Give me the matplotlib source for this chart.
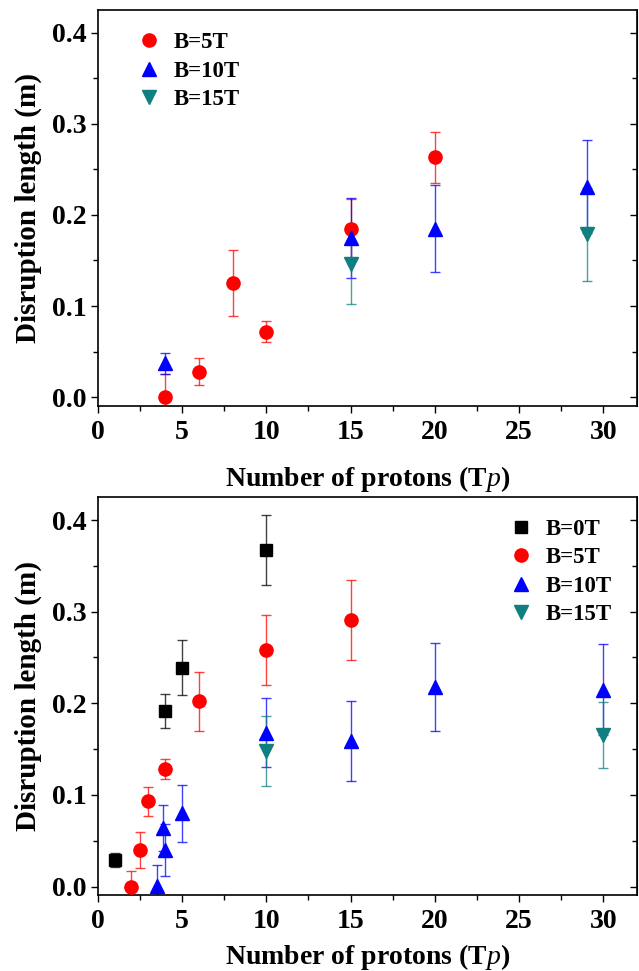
import matplotlib
matplotlib.use('Agg')
import matplotlib.pyplot as plt
from matplotlib.ticker import MultipleLocator

plt.rcParams['font.family'] = 'Liberation Serif'
plt.rcParams['font.weight'] = 'bold'
plt.rcParams['mathtext.fontset'] = 'custom'
plt.rcParams['mathtext.it'] = 'Liberation Serif:style=italic:weight=normal'
plt.rcParams['mathtext.rm'] = 'Liberation Serif:weight=bold'

# top panel data
top_x5 = [4, 6, 8, 10, 15, 20]
top_y5 = [0.0, 0.028, 0.125, 0.072, 0.185, 0.263]
top_e5 = [0.025, 0.0145, 0.036, 0.0115, 0.032, 0.028]

top_x10 = [4, 15, 20, 29]
top_y10 = [0.037, 0.175, 0.185, 0.231]
top_e10 = [0.0115, 0.044, 0.048, 0.051]

top_x15 = [15, 29]
top_y15 = [0.146, 0.179]
top_e15 = [0.044, 0.051]

# bottom panel data
bot_x0 = [1, 4, 5, 10]
bot_y0 = [0.029, 0.192, 0.239, 0.367]
bot_e0 = [0.008, 0.0185, 0.030, 0.038]

bot_x5 = [2, 2.5, 3, 4, 6, 10, 15]
bot_y5 = [0.0, 0.040, 0.093, 0.128, 0.202, 0.258, 0.291]
bot_e5 = [0.017, 0.020, 0.0155, 0.011, 0.032, 0.038, 0.044]

bot_x10 = [3.5, 3.85, 4.0, 5, 10, 15, 20, 30]
bot_y10 = [0.001, 0.064, 0.040, 0.080, 0.168, 0.159, 0.218, 0.215]
bot_e10 = [0.023, 0.025, 0.028, 0.031, 0.038, 0.044, 0.048, 0.050]

bot_x15 = [10, 30]
bot_y15 = [0.148, 0.165]
bot_e15 = [0.038, 0.036]

fig = plt.figure(figsize=(6.39, 9.71), dpi=100)
ax1 = fig.add_axes([0.153, 0.582, 0.844, 0.408])
ax2 = fig.add_axes([0.153, 0.078, 0.844, 0.410])


def series(ax, x, y, e, marker, color, label, ms):
    ax.errorbar(x, y, yerr=e, fmt='none', ecolor=color, elinewidth=1.0,
                capsize=3.5, capthick=1.0, alpha=0.75, zorder=2)
    ax.plot(x, y, linestyle='none', marker=marker, color=color,
            markersize=ms, label=label, zorder=3)


series(ax1, top_x5, top_y5, top_e5, 'o', 'red', 'B=5T', 9.5)
series(ax1, top_x10, top_y10, top_e10, '^', 'blue', 'B=10T', 10.5)
series(ax1, top_x15, top_y15, top_e15, 'v', '#0f7f7f', 'B=15T', 10.5)

series(ax2, bot_x0, bot_y0, bot_e0, 's', 'black', 'B=0T', 8.5)
series(ax2, bot_x5, bot_y5, bot_e5, 'o', 'red', 'B=5T', 9.5)
series(ax2, bot_x10, bot_y10, bot_e10, '^', 'blue', 'B=10T', 10.5)
series(ax2, bot_x15, bot_y15, bot_e15, 'v', '#0f7f7f', 'B=15T', 10.5)

for ax, lp in ((ax1, 14), (ax2, 6)):
    ax.set_xlim(0, 32)
    ax.set_ylim(-0.0095, 0.425)
    ax.xaxis.set_major_locator(MultipleLocator(5))
    ax.xaxis.set_minor_locator(MultipleLocator(2.5))
    ax.yaxis.set_major_locator(MultipleLocator(0.1))
    ax.yaxis.set_minor_locator(MultipleLocator(0.05))
    ax.yaxis.set_major_formatter(matplotlib.ticker.FormatStrFormatter('%.1f'))
    ax.tick_params(which='both', direction='out', top=False, right=False,
                   labelsize=20, width=1)
    ax.tick_params(which='major', length=5)
    ax.tick_params(which='minor', length=3.5)
    ax.tick_params(axis='x', pad=5)
    ax.tick_params(axis='y', pad=3)
    sec = ax.secondary_yaxis('right')
    sec.yaxis.set_major_locator(MultipleLocator(0.1))
    sec.yaxis.set_minor_locator(MultipleLocator(0.05))
    sec.tick_params(which='both', direction='in', labelright=False, width=1)
    sec.tick_params(which='major', length=5)
    sec.tick_params(which='minor', length=3.5)
    for s in ax.spines.values():
        s.set_linewidth(1.2)
    ax.set_xlabel(r'Number of protons (T$p$)', fontsize=20, fontweight='bold',
                  labelpad=lp)
    ax.set_ylabel('Disruption length (m)', fontsize=21, fontweight='bold',
                  labelpad=7)

ax1.legend(loc='upper left', bbox_to_anchor=(0.035, 0.995), frameon=False,
           handlelength=1.0, handletextpad=0.6,
           labelspacing=0.32, prop={'weight': 'bold', 'size': 16.5})
ax2.legend(loc='upper left', bbox_to_anchor=(0.725, 0.998), frameon=False,
           handlelength=1.0, handletextpad=0.6,
           labelspacing=0.33, prop={'weight': 'bold', 'size': 16.5})

fig.savefig('out.png', dpi=100)
